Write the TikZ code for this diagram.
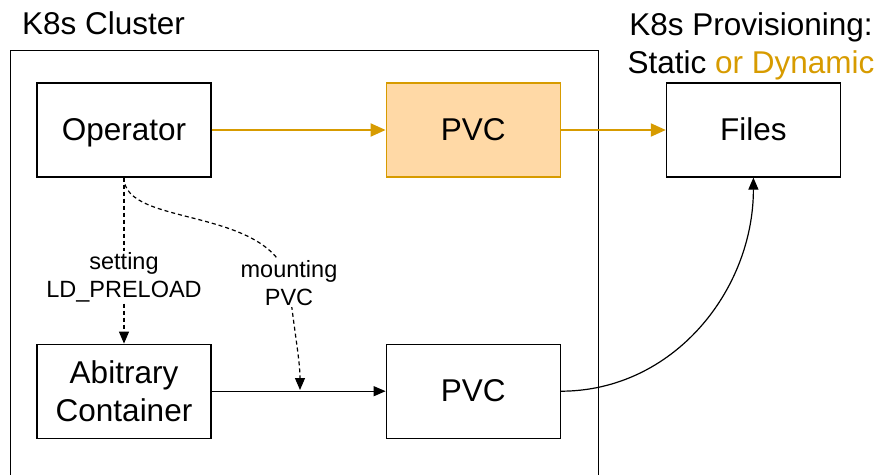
\documentclass[tikz,border=0pt]{standalone}
\usepackage{fontspec}
\setmainfont{Liberation Sans}
\usepackage{xcolor}
\usetikzlibrary{arrows.meta, positioning}

\definecolor{provorange}{HTML}{D79B00}
\definecolor{pvcfill}{HTML}{FFD9A6}

\begin{document}
\begin{tikzpicture}[
    x=1pt, y=-1pt,
    font=\fontsize{31.5}{38}\selectfont,
    box/.style={
      draw,
      line width=1.2pt,
      align=center,
      minimum width=174pt,
      minimum height=94pt,
      inner sep=2pt
    },
    oneline/.style={
      text height=23pt,
      text depth=2pt
    },
    pvcbox/.style={
      box,
      oneline,
      draw=provorange,
      fill=pvcfill
    },
    lbl/.style={
      align=center,
      fill=white,
      inner sep=1pt,
      font=\fontsize{23.5}{28}\selectfont
    },
    arrow/.style={
      -{Triangle[length=12pt, width=10pt]},
      line width=1.2pt
    },
    dasharrow/.style={
      arrow,
      dash pattern=on 4pt off 3pt
    },
    provarrow/.style={
      -{Triangle[length=15pt, width=13pt]},
      line width=2pt,
      draw=provorange
    }
  ]

    \useasboundingbox (0,0) rectangle (878,474);

    % Cluster frame and titles
    \node[draw, line width=1.2pt, anchor=north west, minimum width=588pt, minimum height=450pt] (cluster) at (10,50) {};
    \node[anchor=base west, inner sep=0pt] (clustertitle) at (22,34) {K8s Cluster};

    % Top row
    \node[box, oneline] (operator) at (124,130) {Operator};
    \node[pvcbox, right=174pt of operator] (pvctop) {PVC};
    \node[box, oneline, right=105pt of pvctop] (files) {Files};
    \node[anchor=base, align=center, inner sep=0pt] (provtitle) at (751,73)
      {K8s Provisioning:\\Static \textcolor{provorange}{or Dynamic}};

    % Bottom row
    \node[box, below=166pt of operator] (container) {Abitrary\\Container};
    \node[box, oneline, below=166pt of pvctop] (pvcbottom) {PVC};
    \coordinate (mountpoint) at (300,390);

    % Arrows
    \draw[provarrow] (operator) -- (pvctop);
    \draw[provarrow] (pvctop) -- (files);
    \draw[arrow] (container) -- (pvcbottom);
    \draw[arrow] (pvcbottom.east) to[out=0, in=-90] (files.south);

    \draw[dasharrow] (operator.south) -- node[lbl, pos=0.6] (settinglbl) {setting\\LD\_PRELOAD} (container.north);
    \draw[dasharrow] (operator.south) .. controls (124,228) and (272,205) .. (289,283)
      node[lbl] (mountlbl) {mounting\\PVC}
      .. controls (294,330) and (300,360) .. (mountpoint);

  \end{tikzpicture}
\end{document}
